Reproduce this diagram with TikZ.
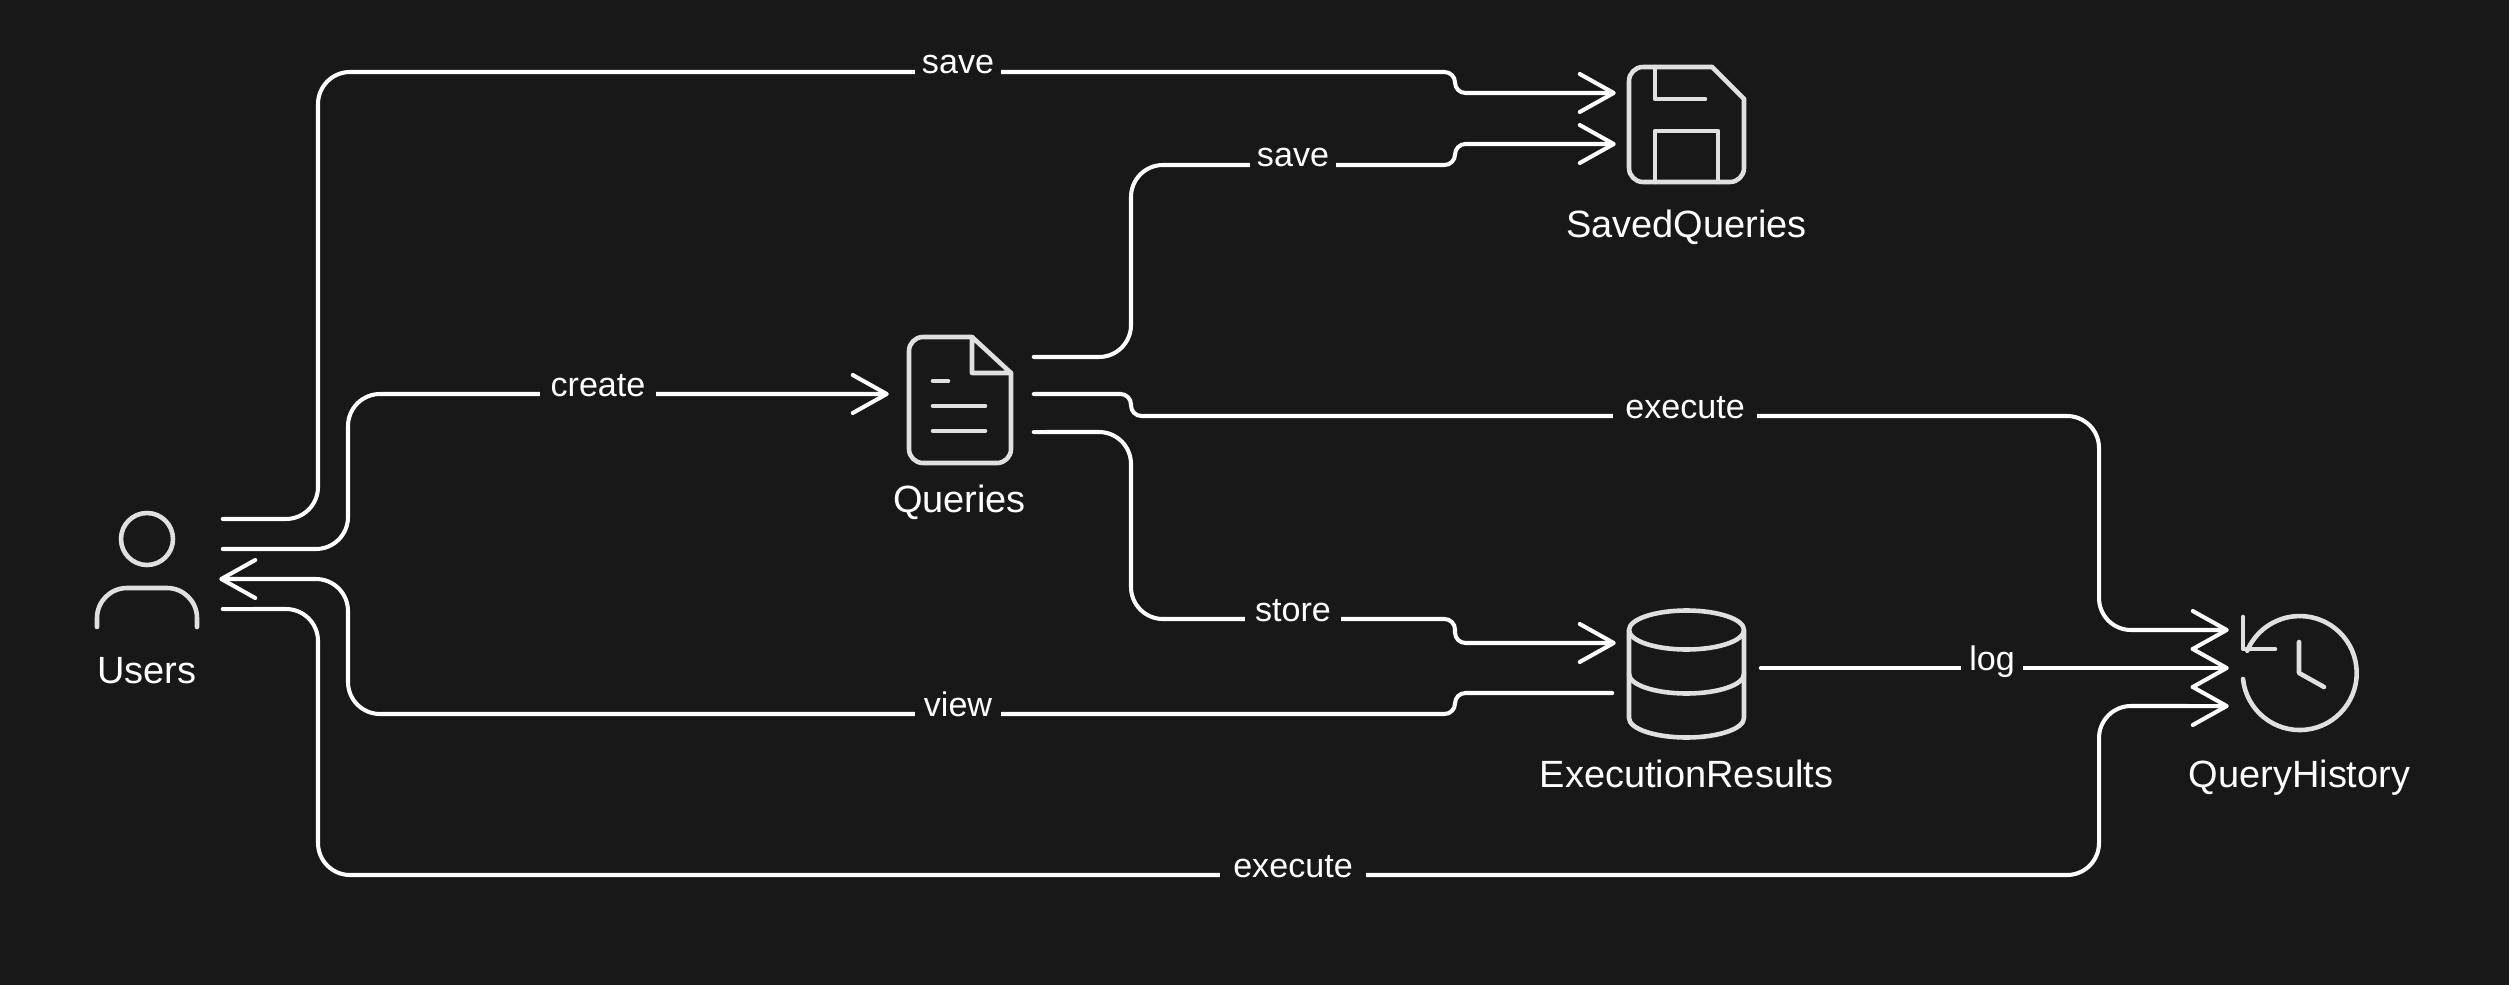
\documentclass[tikz,border=0pt]{standalone}
\usepackage{fontspec}
\setmainfont{Liberation Sans}
\usepackage{xcolor}
\usetikzlibrary{arrows.meta,calc}
\definecolor{panelblack}{RGB}{24, 24, 24}
\definecolor{icongrey}{RGB}{224, 224, 224}
\tikzset{
    portbox/.style={minimum width=1.47cm, minimum height=0.2cm, inner sep=0pt},
    icon/.style={color=icongrey, line width=1.3pt, line cap=round, line join=round},
    flow/.style={color=white, line width=1.15pt, line cap=round, rounded corners=0.32cm, shorten >=-0.035cm},
    iconlabel/.style={anchor=base, text=white, font=\fontsize{10.8pt}{13pt}\selectfont},
    flowlabel/.style={anchor=base, fill=panelblack, text=white, inner xsep=0pt, inner ysep=0pt,
        text height=0.27cm, text depth=0.1cm, font=\fontsize{9.7pt}{12pt}\selectfont}
}

\begin{document}
\begin{tikzpicture}[x=0.01cm, y=-0.01cm, >={Straight Barb[length=0.34cm, width=0.38cm, round]}]
        \useasboundingbox[fill=panelblack] (0,0) rectangle (2509,985);

        % Entities
        \node[portbox, minimum width=1.5cm] (Users) at (147,564) {};
        \node[portbox] (Queries) at (959.5,394) {};
        \node[portbox] (SavedQueries) at (1686.5,118.5) {};
        \node[portbox] (ExecutionResults) at (1686.5,668) {};
        \node[portbox] (QueryHistory) at (2299.5,668) {};

        % Users icon
        \draw[icon] (147,539) circle (26);
        \draw[icon, rounded corners=0.3cm] (97,627) -- (97,588) -- (197,588) -- (197,627);
        \node[iconlabel] (UsersText) at (147,683) {Users};

        % Queries icon
        \draw[icon, rounded corners=0.14cm] (972,337) -- (909,337) -- (909,463) -- (1011,463) -- (1011,373);
        \draw[icon] (1011,373) -- (972,337) -- (972,373) -- cycle;
        \draw[icon] (933,381) -- (948,381);
        \draw[icon] (933,406) -- (985,406);
        \draw[icon] (933,431) -- (985,431);
        \node[iconlabel] (QueriesText) at (959.5,512) {Queries};

        % SavedQueries icon
        \draw[icon, rounded corners=0.14cm] (1712,67) -- (1629,67) -- (1629,182) -- (1744,182) -- (1744,99);
        \draw[icon] (1744,99) -- (1712,67);
        \draw[icon] (1655,67) -- (1655,99) -- (1705,99);
        \draw[icon] (1655,182) -- (1655,131) -- (1718,131) -- (1718,182);
        \node[iconlabel] (SavedQueriesText) at (1686.5,238) {SavedQueries};

        % ExecutionResults icon
        \draw[icon] (1686.5,630) ellipse [x radius=57.5, y radius=19.5];
        \draw[icon] (1629,630) -- (1629,718) arc[start angle=180, end angle=0, x radius=57.5, y radius=19.5] -- (1744,630);
        \draw[icon] (1629,674) arc[start angle=180, end angle=0, x radius=57.5, y radius=19.5];
        \node[iconlabel] (ExecutionResultsText) at (1686.5,787) {ExecutionResults};

        % QueryHistory icon
        \draw[icon] (2243,679) arc[start angle=174, end angle=-157, radius=57];
        \draw[icon] (2243,617) -- (2243,649) -- (2275,649);
        \draw[icon] (2299,642) -- (2299,673) -- (2324,687);
        \node[iconlabel] (QueryHistoryText) at (2299.5,787) {QueryHistory};

        % Connectors leaving Users
        \draw[flow, ->] ([yshift=0.45cm]Users.east) -- (318,519) -- (318,72) -- (1200,72)
            [rounded corners=0.105cm] -- (1455,72) -- (1455,93) -- ([yshift=0.255cm]SavedQueries.west);
        \draw[flow, ->] ([yshift=0.15cm]Users.east) -- (348,549) -- (348,394) -- (Queries.west);
        \draw[flow, ->] ([yshift=-0.25cm]ExecutionResults.west) [rounded corners=0.105cm] -- (1455,693) -- (1455,714) -- (1200,714)
            [rounded corners=0.32cm] -- (348,714) -- (348,579) -- ([yshift=-0.15cm]Users.east);
        \draw[flow, ->] ([yshift=-0.45cm]Users.east) -- (318,609) -- (318,875) -- (2099,875) -- (2099,706) -- ([yshift=-0.38cm]QueryHistory.west);

        % Connectors leaving Queries
        \draw[flow, ->] ([yshift=0.37cm]Queries.east) -- (1131,357) -- (1131,165) -- (1300,165)
            [rounded corners=0.105cm] -- (1455,165) -- (1455,144) -- ([yshift=-0.255cm]SavedQueries.west);
        \draw[flow, ->] (Queries.east) [rounded corners=0.105cm] -- (1131,394) -- (1131,416) -- (1500,416)
            [rounded corners=0.32cm] -- (2099,416) -- (2099,630) -- ([yshift=0.38cm]QueryHistory.west);
        \draw[flow, ->] ([yshift=-0.38cm]Queries.east) -- (1131,432) -- (1131,619) -- (1300,619)
            [rounded corners=0.105cm] -- (1455,619) -- (1455,643) -- ([yshift=0.25cm]ExecutionResults.west);

        % Connector leaving ExecutionResults
        \draw[flow, ->] (ExecutionResults.east) -- (QueryHistory.west);

        % Connector labels
        \node[flowlabel, minimum width=0.86cm] (savedirect) at (958,74) {save};
        \node[flowlabel, minimum width=0.86cm] (savequery) at (1293,167) {save};
        \node[flowlabel, minimum width=1.15cm] (createquery) at (598,396) {create};
        \node[flowlabel, minimum width=1.44cm] (executequery) at (1685,418) {execute};
        \node[flowlabel, minimum width=0.96cm] (storeresult) at (1293,621) {store};
        \node[flowlabel, minimum width=0.86cm] (viewresult) at (958,716) {view};
        \node[flowlabel, minimum width=0.62cm] (logresult) at (1992,670) {log};
        \node[flowlabel, minimum width=1.46cm] (executedirect) at (1293,877) {execute};
    \end{tikzpicture}
\end{document}
